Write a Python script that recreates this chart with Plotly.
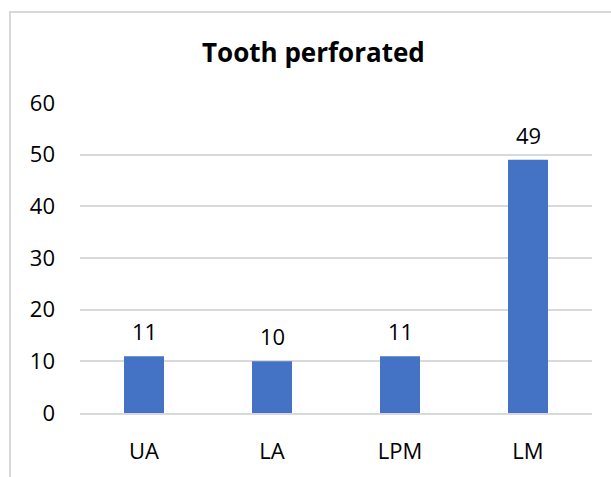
import plotly.graph_objects as go

categories = ["UA", "LA", "LPM", "LM"]
values = [11, 10, 11, 49]
y_ticks = [0, 10, 20, 30, 40, 50, 60]
title_text = "Tooth perforated"

FONT = "Open Sans"
GRID = "#D9D9D9"
FS = 22

fig = go.Figure()
fig.add_trace(go.Bar(
    x=categories, y=values,
    marker=dict(color="#4472C4", line=dict(width=0)),
    hoverinfo="x+y",
))

for c, v in zip(categories, values):
    fig.add_annotation(
        x=c, y=v, xref="x", yref="y", text=str(v), showarrow=False,
        yanchor="bottom", yshift=8,
        font=dict(family=FONT, size=FS, color="#000000"),
    )

fig.add_annotation(
    x=0.457, y=1.163, xref="paper", yref="paper", text="<b>" + title_text + "</b>",
    showarrow=False, xanchor="center", yanchor="middle",
    font=dict(family=FONT, size=26, color="#000000"),
)

fig.add_shape(
    type="rect", xref="paper", yref="paper",
    x0=-0.1367, x1=2, y0=-1, y1=1.2939,
    line=dict(color=GRID, width=2), fillcolor="rgba(0,0,0,0)", layer="below",
)

fig.update_layout(
    width=611, height=477,
    margin=dict(l=80, r=19, t=103, b=61),
    paper_bgcolor="white", plot_bgcolor="white",
    bargap=0.6875,
    showlegend=False,
    font=dict(family=FONT, size=FS, color="#000000"),
    xaxis=dict(
        showgrid=False, showline=True, linecolor=GRID, linewidth=2,
        ticks="", ticklabelstandoff=18,
        tickfont=dict(family=FONT, size=FS, color="#000000"),
    ),
    yaxis=dict(
        range=[0, 60], tickvals=y_ticks, showgrid=True, gridcolor=GRID, gridwidth=2,
        zeroline=False, showline=False, ticks="", ticklabelstandoff=24,
        tickfont=dict(family=FONT, size=FS, color="#000000"),
    ),
)

fig.write_html(
    "out.html",
    config={"displayModeBar": False},
    post_script="document.body.style.margin='0';document.body.style.padding='0';",
)
